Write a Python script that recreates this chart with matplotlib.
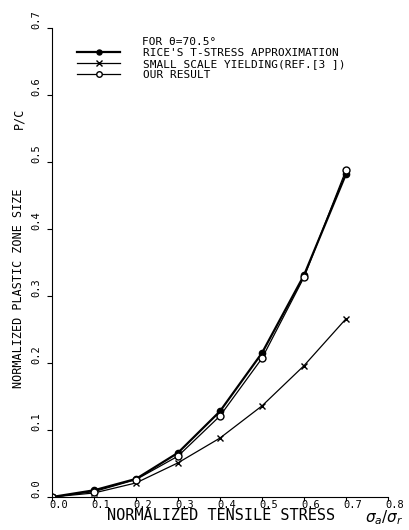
import matplotlib
matplotlib.use('Agg')
import matplotlib.pyplot as plt
import matplotlib.transforms as mtransforms

# values
stress = [0.0, 0.1, 0.2, 0.3, 0.4, 0.5, 0.6, 0.7]
rice = [0.0, 0.010, 0.027, 0.066, 0.128, 0.215, 0.331, 0.482]
ssy = [0.0, 0.006, 0.021, 0.051, 0.088, 0.136, 0.196, 0.266]
ours = [0.0, 0.008, 0.026, 0.061, 0.121, 0.207, 0.328, 0.488]

xticks = [0.0, 0.1, 0.2, 0.3, 0.4, 0.5, 0.6, 0.7, 0.8]
yticks = [0.0, 0.1, 0.2, 0.3, 0.4, 0.5, 0.6, 0.7]

plt.rcParams['font.family'] = ['DejaVu Sans Mono', 'DejaVu Sans']

W, H = 410, 530
fig = plt.figure(figsize=(W / 100, H / 100), dpi=100)
ax = fig.add_axes([52 / W, 1 - 497 / H, 336 / W, 469 / H])

ax.plot(stress, rice, color='black', lw=1.6, marker='o', ms=4.5,
        mfc='black', label="RICE'S T-STRESS APPROXIMATION")
ax.plot(stress, ssy, color='black', lw=0.9, marker='x', ms=5, mew=1,
        label='SMALL SCALE YIELDING(REF.[3 ])')
ax.plot(stress, ours, color='black', lw=0.9, marker='o', ms=5,
        mfc='white', mew=1, label='OUR RESULT')

ax.set_xlim(0, 0.8)
ax.set_ylim(0, 0.7)
ax.set_xticks(xticks)
ax.set_yticks(yticks)
ax.set_xticklabels(['%.1f' % v for v in xticks], fontsize=7.5)
ax.set_yticklabels(['%.1f' % v for v in yticks], fontsize=7.5, rotation=90, va='center')
ax.spines['top'].set_visible(False)
ax.spines['right'].set_visible(False)
ax.tick_params(axis='both', length=3.5, width=0.8, color='black')
ax.tick_params(axis='y', pad=4)
ax.tick_params(axis='x', length=3, pad=-1)

# shift tick labels like the plotter did
for lab in ax.get_yticklabels():
    lab.set_transform(lab.get_transform() + mtransforms.ScaledTranslation(0, 8 / 100, fig.dpi_scale_trans))
for lab in ax.get_xticklabels():
    lab.set_transform(lab.get_transform() + mtransforms.ScaledTranslation(7 / 100, 0, fig.dpi_scale_trans))

fig.text(221 / W, 1 - 516 / H, 'NORMALIZED TENSILE STRESS', fontsize=11,
         ha='center', va='center')
fig.text(384 / W, 1 - 518 / H, r'$\sigma_a/\sigma_r$', fontsize=11,
         ha='center', va='center', family='DejaVu Sans')
fig.text(19 / W, 1 - 288 / H, 'NORMALIZED PLASTIC ZONE SIZE', fontsize=8.5,
         rotation=90, ha='center', va='center')
fig.text(19 / W, 1 - 118 / H, 'P/C', fontsize=8.5, rotation=90,
         ha='center', va='center')

fig.text(142 / W, 1 - 42 / H, 'FOR θ=70.5°', fontsize=8, ha='left', va='center')
ax.legend(loc='upper left', bbox_to_anchor=(77 / W, 1 - 48 / H),
          bbox_transform=fig.transFigure, frameon=False, fontsize=8,
          handlelength=3.9, handletextpad=2.0, labelspacing=0.08,
          markerscale=0.8, borderpad=0, borderaxespad=0)

fig.savefig('out.png', dpi=100)
